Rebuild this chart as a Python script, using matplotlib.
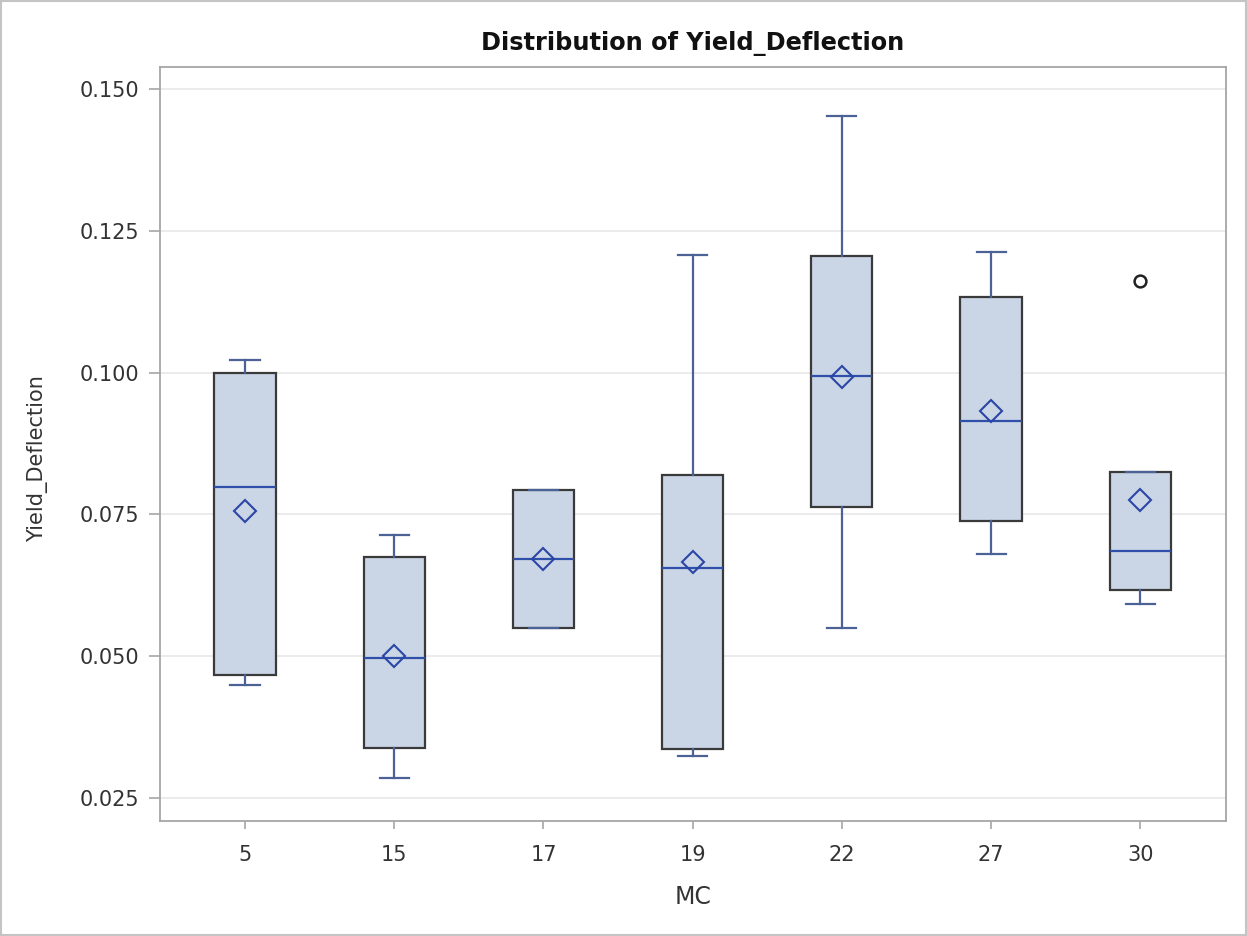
"""
Box plot of Yield_Deflection by MC, drawn to look like the SAS PROC output.
Box statistics were read off the original chart.
"""

import matplotlib
matplotlib.use("Agg")
import matplotlib.pyplot as plt
from matplotlib.patches import Rectangle

# DejaVu is a touch wider than Arial, which suits the stretched SAS text
plt.rcParams["font.family"] = ["DejaVu Sans"]

# ---- data ----
mc_labels = ["5", "15", "17", "19", "22", "27", "30"]
whisker_low = [0.0449, 0.0285, 0.0550, 0.0324, 0.0549, 0.0680, 0.0591]
q1 = [0.0467, 0.0337, 0.0550, 0.0335, 0.0763, 0.0738, 0.0616]
medians = [0.0798, 0.0496, 0.0671, 0.0655, 0.0994, 0.0915, 0.0686]
q3 = [0.0999, 0.0675, 0.0792, 0.0820, 0.1206, 0.1133, 0.0825]
whisker_high = [0.1023, 0.0714, 0.0792, 0.1207, 0.1453, 0.1213, 0.0825]
means = [0.0755, 0.0500, 0.0671, 0.0665, 0.0993, 0.0933, 0.0775]
outliers = [[], [], [], [], [], [], [0.1161]]

y_ticks = [0.025, 0.050, 0.075, 0.100, 0.125, 0.150]

# ---- colours ----
BOX_FILL = "#CAD5E6"
BOX_EDGE = "#3A3A3A"
WHISKER = "#4A6296"
MEDIAN = "#2F4FA8"
MEAN = "#2B46A6"
GRID = "#E8E8E8"
AXIS = "#A6A6A6"
TEXT = "#333333"

stats = []
for i, label in enumerate(mc_labels):
    stats.append({
        "label": label,
        "whislo": whisker_low[i],
        "q1": q1[i],
        "med": medians[i],
        "q3": q3[i],
        "whishi": whisker_high[i],
        "mean": means[i],
        "fliers": outliers[i],
    })

fig = plt.figure(figsize=(12.47, 9.36), dpi=100)
ax = fig.add_axes([0.1283, 0.1229, 0.8549, 0.8058])

ax.bxp(
    stats,
    positions=range(len(stats)),
    widths=0.41,
    capwidths=0.195,
    patch_artist=True,
    showmeans=True,
    boxprops=dict(facecolor=BOX_FILL, edgecolor=BOX_EDGE, linewidth=1.6),
    whiskerprops=dict(color=WHISKER, linewidth=1.6),
    capprops=dict(color=WHISKER, linewidth=1.6),
    medianprops=dict(color=MEDIAN, linewidth=1.6),
    meanprops=dict(marker="D", markersize=11, markerfacecolor="none",
                   markeredgecolor=MEAN, markeredgewidth=1.5),
    flierprops=dict(marker="o", markersize=8.5, markerfacecolor="none",
                    markeredgecolor="#222222", markeredgewidth=1.8),
    zorder=3,
)

ax.set_xlim(-0.57, 6.575)
ax.set_ylim(0.02089, 0.15397)
ax.set_yticks(y_ticks)
ax.set_yticklabels([f"{v:.3f}" for v in y_ticks])
ax.set_xticks(range(len(mc_labels)))
ax.set_xticklabels(mc_labels)

ax.yaxis.grid(True, color=GRID, linewidth=1.2, zorder=0)
ax.set_axisbelow(True)

for spine in ax.spines.values():
    spine.set_color(AXIS)
    spine.set_linewidth(1.3)

ax.tick_params(axis="y", direction="out", length=8, width=1.2, color=AXIS,
               labelsize=15, labelcolor=TEXT, pad=7)
ax.tick_params(axis="x", direction="out", length=6, width=1.2, color=AXIS,
               labelsize=15, labelcolor=TEXT, pad=11)

ax.set_title("Distribution of Yield_Deflection", fontsize=17.3, fontweight="bold",
             color="#111111", pad=12)
ax.set_xlabel("MC", fontsize=17, color=TEXT, labelpad=15)
ax.set_ylabel("Yield_Deflection", fontsize=15, color=TEXT)
ax.yaxis.set_label_coords(-0.105, 0.48)

# light frame around the whole graphic, as in the SAS output
fig.patches.append(Rectangle((0.001, 0.001), 0.998, 0.998, transform=fig.transFigure,
                             fill=False, edgecolor="#C4C4C4", linewidth=1.5))

fig.savefig("out.png", dpi=100)
plt.close(fig)
